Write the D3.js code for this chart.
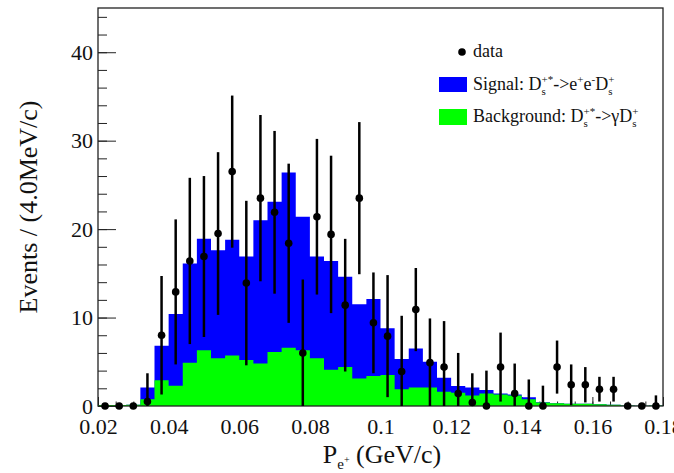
<!DOCTYPE html>
<html>
<head>
<meta charset="utf-8">
<script src="https://cdn.jsdelivr.net/npm/d3@7"></script>
<style>
body { margin: 0; background: #fff; }
svg text { font-family: "Liberation Serif", "DejaVu Serif", serif; fill: #111; }
</style>
</head>
<body>
<svg width="674" height="473"></svg>
<script>
// binning: 40 bins of 4 MeV/c from 0.02 to 0.18 GeV/c
var binLow = 0.02, binWidth = 0.004, nBins = 40;

var background = [0.1, 0.1, 0.15, 0.75, 2.9, 2.3, 4.9, 6.3, 5.4, 5.7,
                  5.2, 4.8, 6.1, 6.6, 6.3, 5.4, 4.1, 4.4, 3.1, 3.4,
                  3.5, 1.9, 2.1, 2.1, 1.6, 1.5, 1.2, 1.4, 1.3, 1.2,
                  0.75, 0.4, 0.3, 0.25, 0.25, 0.2, 0.15, 0.05, 0.03, 0.05];
var signal = [0, 0, 0, 1.35, 3.9, 8.1, 11.2, 12.6, 12.2, 13.1,
              11.7, 16.2, 17.0, 19.8, 15.1, 11.5, 12.3, 10.2, 8.4, 8.7,
              5.3, 3.4, 4.4, 2.9, 1.6, 0.75, 0.9, 0.4, 0.1, 0.1,
              0.25, 0.02, 0, 0, 0, 0, 0, 0, 0, 0];
var dataCounts = [0, 0, 0, 0.5, 8, 12.9, 16.4, 16.9, 19.5, 26.5,
                  13.9, 23.5, 21.9, 18.4, 6.0, 21.4, 19.4, 11.4, 23.5, 9.4,
                  7.9, 3.9, 10.9, 4.9, 4.4, 1.4, 0.4, 0, 4.4, 1.4,
                  0, 0, 4.4, 2.4, 2.4, 1.9, 1.9, 0, 0, 0];
var dataErrors = [0, 0, 0, 3.2, 6.7, 8.2, 9.4, 9.1, 9.2, 8.6,
                  9.3, 9.4, 9.2, 9.0, 8.3, 8.8, 8.9, 7.5, 8.6, 5.7,
                  6.9, 6.3, 4.7, 5.0, 5.2, 4.6, 3.3, 4.0, 3.9, 3.4,
                  3.0, 2.3, 3.0, 2.3, 2.0, 1.4, 1.4, 0, 0, 1.2];

var xMajorTicks = [0.02, 0.04, 0.06, 0.08, 0.1, 0.12, 0.14, 0.16, 0.18];
var xMinorTicks = d3.range(0.02, 0.1801, 0.005);
var yMajorTicks = [0, 10, 20, 30, 40];
var yMinorTicks = d3.range(0, 45, 2);

var svg = d3.select("svg");
var frameL = 98, frameR = 663, frameT = 8, frameB = 406;

var x = d3.scaleLinear().domain([0.02, 0.18]).range([frameL, frameR]);
var y = d3.scaleLinear().domain([0, 45]).range([frameB, frameT]);

var edges = d3.range(nBins + 1).map(function(i) { return binLow + i * binWidth; });
var centers = d3.range(nBins).map(function(i) { return binLow + (i + 0.5) * binWidth; });

// axes (ticks point inward, drawn under the histograms)
svg.append("g").attr("transform", "translate(0," + frameB + ")")
  .call(d3.axisBottom(x).tickValues(xMinorTicks).tickSize(-4.5).tickFormat(""))
  .call(function(g) { g.select(".domain").remove(); });
svg.append("g").attr("transform", "translate(0," + frameB + ")")
  .call(d3.axisBottom(x).tickValues(xMajorTicks).tickSize(-9).tickPadding(12)
    .tickFormat(d3.format("~g")))
  .call(function(g) {
    g.select(".domain").remove();
    g.selectAll("text").style("font-size", "22px").style("font-family", "Liberation Serif").attr("fill", "#111");
  });
svg.append("g").attr("transform", "translate(" + frameL + ",0)")
  .call(d3.axisLeft(y).tickValues(yMinorTicks).tickSize(-9).tickFormat(""))
  .call(function(g) { g.select(".domain").remove(); });
svg.append("g").attr("transform", "translate(" + frameL + ",0)")
  .call(d3.axisLeft(y).tickValues(yMajorTicks).tickSize(-18).tickPadding(5))
  .call(function(g) {
    g.select(".domain").remove();
    g.selectAll("text").style("font-size", "22px").style("font-family", "Liberation Serif").attr("fill", "#111");
  });
svg.selectAll(".tick line").attr("stroke", "#222");

// stacked histograms
function stepArea(vals) {
  var p = vals.map(function(v, i) { return [edges[i], v]; });
  p.push([edges[nBins], vals[nBins - 1]]);
  return d3.area()
    .x(function(d) { return x(d[0]); })
    .y0(y(0))
    .y1(function(d) { return y(d[1]); })
    .curve(d3.curveStepAfter)(p);
}
var total = signal.map(function(s, i) { return s + background[i]; });
svg.append("path").attr("d", stepArea(total)).attr("fill", "#0000ff");
svg.append("path").attr("d", stepArea(background)).attr("fill", "#00ff00");

// frame
svg.append("rect").attr("x", frameL).attr("y", frameT)
  .attr("width", frameR - frameL).attr("height", frameB - frameT)
  .attr("fill", "none").attr("stroke", "#222").attr("stroke-width", 1.3);

// data points with error bars
var idx = d3.range(nBins);
var pts = svg.append("g");
pts.selectAll("line").data(idx.filter(function(i) { return dataErrors[i] > 0; }))
  .enter().append("line")
  .attr("x1", function(i) { return x(centers[i]); })
  .attr("x2", function(i) { return x(centers[i]); })
  .attr("y1", function(i) { return y(Math.max(0, dataCounts[i] - dataErrors[i])); })
  .attr("y2", function(i) { return y(dataCounts[i] + dataErrors[i]); })
  .attr("stroke", "#000").attr("stroke-width", 2.5);
pts.selectAll("circle").data(idx).enter().append("circle")
  .attr("cx", function(i) { return x(centers[i]); })
  .attr("cy", function(i) { return y(dataCounts[i]); })
  .attr("r", 3.8).attr("fill", "#000");

// text with sub/superscripts: parts = [{t, shift(px), size(px), dx}]
function rich(sel, parts) {
  var cur = 0;
  parts.forEach(function(p) {
    var sh = p.shift || 0;
    var t = sel.append("tspan").text(p.t).attr("dy", sh - cur);
    if (p.size) t.style("font-size", p.size + "px");
    if (p.dx) t.attr("dx", p.dx);
    cur = sh;
  });
}

// axis titles
var xt = svg.append("text").attr("x", 382).attr("y", 463)
  .attr("text-anchor", "middle").style("font-size", "26px");
rich(xt, [{t: "P"}, {t: "e", shift: 6, size: 15}, {t: "+", shift: 0, size: 10},
          {t: " (GeV/c)", shift: 0}]);

svg.append("text")
  .attr("transform", "translate(37,207) rotate(-90)")
  .attr("text-anchor", "middle").style("font-size", "26px")
  .text("Events / (4.0MeV/c)");

// legend
var lg = svg.append("g").style("font-size", "18px");
lg.append("circle").attr("cx", 462).attr("cy", 52).attr("r", 3.8).attr("fill", "#000");
lg.append("text").attr("x", 473).attr("y", 57).text("data");

lg.append("rect").attr("x", 439).attr("y", 77).attr("width", 28).attr("height", 15).attr("fill", "#0000ff");
var s1 = lg.append("text").attr("x", 473).attr("y", 90);
rich(s1, [{t: "Signal: D"}, {t: "s", shift: 5, size: 11}, {t: "+*", shift: -7, size: 11, dx: -4.3},
          {t: "->e", shift: 0}, {t: "+", shift: -7, size: 11}, {t: "e", shift: 0},
          {t: "-", shift: -7, size: 11}, {t: "D", shift: 0},
          {t: "s", shift: 5, size: 11}, {t: "+", shift: -7, size: 11, dx: -4.3}]);

lg.append("rect").attr("x", 439).attr("y", 109).attr("width", 28).attr("height", 16).attr("fill", "#00ff00");
var s2 = lg.append("text").attr("x", 473).attr("y", 122);
rich(s2, [{t: "Background: D"}, {t: "s", shift: 5, size: 11}, {t: "+*", shift: -7, size: 11, dx: -4.3},
          {t: "->γD", shift: 0},
          {t: "s", shift: 5, size: 11}, {t: "+", shift: -7, size: 11, dx: -4.3}]);
</script>
</body>
</html>
